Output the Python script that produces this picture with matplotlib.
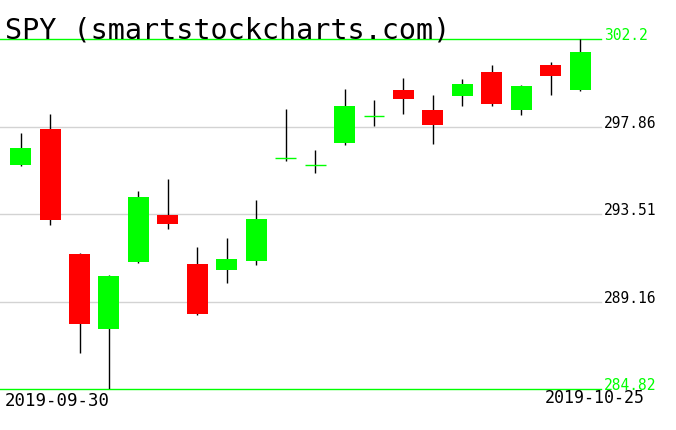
import matplotlib
matplotlib.use("Agg")
import matplotlib.pyplot as plt
from matplotlib.transforms import blended_transform_factory

dates = ["2019-09-30", "2019-10-01", "2019-10-02", "2019-10-03", "2019-10-04",
         "2019-10-07", "2019-10-08", "2019-10-09", "2019-10-10", "2019-10-11",
         "2019-10-14", "2019-10-15", "2019-10-16", "2019-10-17", "2019-10-18",
         "2019-10-21", "2019-10-22", "2019-10-23", "2019-10-24", "2019-10-25"]
opens  = [295.97, 297.75, 291.54, 287.78, 291.11, 293.49, 291.04, 290.71, 291.16, 296.29,
          295.96, 297.07, 298.38, 299.68, 298.69, 299.38, 300.58, 298.69, 300.92, 299.70]
highs  = [297.55, 298.49, 291.56, 290.48, 294.67, 295.26, 291.87, 292.32, 294.22, 298.74,
          296.70, 299.73, 299.19, 300.28, 299.43, 300.23, 300.92, 299.93, 301.07, 302.20]
lows   = [295.92, 292.99, 286.62, 284.82, 291.09, 292.75, 288.48, 290.07, 290.96, 296.14,
          295.55, 296.97, 297.91, 298.49, 297.00, 298.90, 298.89, 298.44, 299.43, 299.63]
closes = [296.80, 293.24, 288.03, 290.45, 294.37, 293.04, 288.53, 291.29, 293.28, 296.29,
          295.96, 298.89, 298.38, 299.25, 297.94, 299.98, 298.99, 299.88, 300.38, 301.57]
grid_levels = [302.2, 297.86, 293.51, 289.16, 284.82]
title = "SPY (smartstockcharts.com)"

GREEN = "#00ff00"
RED = "#ff0000"
FONT = "DejaVu Sans Mono"

fig = plt.figure(figsize=(6.76, 4.31), dpi=100)
ax = fig.add_axes([0, 41 / 431, 600.7 / 676, 349.7 / 431])
ax.set_xlim(-0.7, len(dates) - 0.3)
ax.set_ylim(min(grid_levels), max(grid_levels))
ax.axis("off")

lo, hi = min(grid_levels), max(grid_levels)
for lvl in grid_levels:
    col = GREEN if lvl in (lo, hi) else "#d3d3d3"
    ax.axhline(lvl, color=col, lw=1.0, zorder=1, clip_on=False)

x = list(range(len(dates)))
ax.vlines(x, lows, highs, color="black", lw=1.0, zorder=2)
width = 0.71
for i in x:
    o, c = opens[i], closes[i]
    col = GREEN if c >= o else RED
    if abs(c - o) < 1e-9:
        ax.hlines(o, i - width / 2, i + width / 2, color=col, lw=1.0, zorder=3)
    else:
        ax.bar(i, abs(c - o), bottom=min(o, c), width=width, color=col,
               edgecolor="none", zorder=3)

tr = blended_transform_factory(fig.transFigure, ax.transData)
for lvl in grid_levels:
    col = GREEN if lvl in (lo, hi) else "black"
    ax.text(604 / 676, lvl, f"{lvl:g}", transform=tr, color=col, va="baseline",
            ha="left", fontsize=10.5, family=FONT, clip_on=False, zorder=5)

fig.text(5 / 676, (431 - 38.3) / 431, title, fontsize=20.5, family=FONT,
         va="baseline", ha="left", color="black")
fig.text(4.7 / 676, (431 - 406) / 431, dates[0], fontsize=12.5, family=FONT,
         va="baseline", ha="left", color="black")
fig.text(645 / 676, (431 - 403.5) / 431, dates[-1], fontsize=12, family=FONT,
         va="baseline", ha="right", color="black", zorder=4)

fig.savefig("out.png", dpi=100, facecolor="white")
